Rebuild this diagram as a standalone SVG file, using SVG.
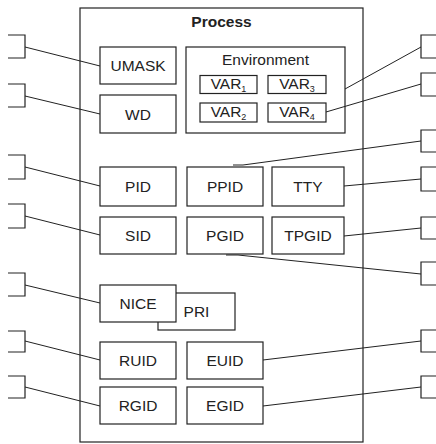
<svg xmlns="http://www.w3.org/2000/svg" width="436" height="444" viewBox="0 0 436 444">
<style>
rect{fill:#fff;stroke:#222;stroke-width:1.2}
text{font-family:"Liberation Sans",Arial,sans-serif;font-size:15.5px;fill:#222;text-anchor:middle}
.b{font-weight:bold}
.sub{font-size:9px}
.ext{fill:none;stroke:#222;stroke-width:1.2}
.c{fill:none;stroke:#222;stroke-width:1}
</style>
<rect width="436" height="444" style="fill:#fff;stroke:none"/>
<g id="process"><rect x="80" y="8" width="283" height="434"/><text class="b" x="221.5" y="27">Process</text></g>
<g id="umask"><rect x="100" y="47" width="76" height="37"/><text x="138" y="71">UMASK</text></g>
<g id="wd"><rect x="100" y="95" width="76" height="38"/><text x="138" y="119.5">WD</text></g>
<g id="environment"><rect x="186" y="47" width="159" height="86"/><text x="265.5" y="65">Environment</text>
<g id="var1"><rect x="200" y="75.5" width="57" height="18"/><text x="228.5" y="89">VAR<tspan class="sub" dy="3">1</tspan></text></g>
<g id="var3"><rect x="268" y="75.5" width="58" height="18"/><text x="297" y="89">VAR<tspan class="sub" dy="3">3</tspan></text></g>
<g id="var2"><rect x="200" y="103" width="57" height="19"/><text x="228.5" y="117">VAR<tspan class="sub" dy="3">2</tspan></text></g>
<g id="var4"><rect x="268" y="103" width="58" height="19"/><text x="297" y="117">VAR<tspan class="sub" dy="3">4</tspan></text></g>
</g>
<g id="pid"><rect x="100" y="167" width="76" height="39"/><text x="138" y="192">PID</text></g>
<g id="ppid"><rect x="187" y="167" width="76" height="39"/><text x="225" y="192">PPID</text></g>
<g id="tty"><rect x="272" y="167" width="72" height="39"/><text x="308" y="192">TTY</text></g>
<g id="sid"><rect x="100" y="217" width="76" height="37"/><text x="138" y="241">SID</text></g>
<g id="pgid"><rect x="187" y="217" width="76" height="37"/><text x="225" y="241">PGID</text></g>
<g id="tpgid"><rect x="272" y="217" width="72" height="37"/><text x="308" y="241">TPGID</text></g>
<g id="pri"><rect x="158" y="293" width="77" height="37"/><text x="196.5" y="317">PRI</text></g>
<g id="nice"><rect x="100" y="285" width="76" height="37"/><text x="138" y="309">NICE</text></g>
<g id="ruid"><rect x="100" y="342" width="76" height="37"/><text x="138" y="366">RUID</text></g>
<g id="euid"><rect x="187" y="342" width="76" height="37"/><text x="225" y="366">EUID</text></g>
<g id="rgid"><rect x="100" y="387" width="76" height="37"/><text x="138" y="411">RGID</text></g>
<g id="egid"><rect x="187" y="387" width="76" height="37"/><text x="225" y="411">EGID</text></g>
<g id="external">
<path class="ext" d="M8,35H25V58H8"/>
<path class="ext" d="M8,84H25V107H8"/>
<path class="ext" d="M8,155H25V179H8"/>
<path class="ext" d="M8,204H25V228H8"/>
<path class="ext" d="M8,273H25V296H8"/>
<path class="ext" d="M8,331H25V352H8"/>
<path class="ext" d="M8,376H25V398H8"/>
<path class="ext" d="M436,35H421V58H436"/>
<path class="ext" d="M436,73H421V96H436"/>
<path class="ext" d="M436,130H421V152H436"/>
<path class="ext" d="M436,167H421V191H436"/>
<path class="ext" d="M436,217H421V239H436"/>
<path class="ext" d="M436,262H421V285H436"/>
<path class="ext" d="M436,330H421V352H436"/>
<path class="ext" d="M436,376H421V398H436"/>
</g>
<g id="connectors">
<path class="c" d="M25,47L100,66"/>
<path class="c" d="M25,96L100,114"/>
<path class="c" d="M25,167L100,186"/>
<path class="c" d="M25,216L100,235"/>
<path class="c" d="M25,285L100,303"/>
<path class="c" d="M25,341L100,360"/>
<path class="c" d="M25,387L100,406"/>
<path class="c" d="M421,47L345,89"/>
<path class="c" d="M421,84L326,112"/>
<path class="c" d="M421,141L243,165H233"/>
<path class="c" d="M421,179L344,186"/>
<path class="c" d="M421,228L344,236"/>
<path class="c" d="M421,274L238,255H226"/>
<path class="c" d="M421,341L263,360"/>
<path class="c" d="M421,387L263,406"/>
</g>
</svg>
